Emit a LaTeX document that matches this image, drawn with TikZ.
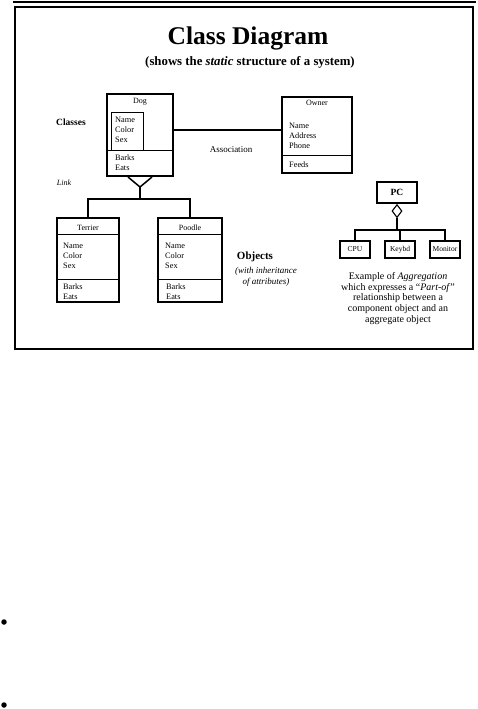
\documentclass[tikz,border=0pt]{standalone}
\usepackage{fontspec}
\setmainfont{Liberation Serif}
\usetikzlibrary{positioning,calc,shapes.geometric}
\tikzset{cls/.style={draw,line width=2pt,inner sep=0pt},
  part/.style={draw,line width=1.3pt,inner sep=0pt,minimum width=30pt,minimum height=17pt,font=\fontsize{7.5}{8}\selectfont},
  attr/.style={anchor=north west,align=left,inner sep=0pt,font=\fontsize{8.3}{10}\selectfont},
  ttl/.style={inner sep=0pt,font=\fontsize{8}{9}\selectfont},
  note/.style={inner sep=0pt,align=center,font=\itshape\fontsize{9}{11}\selectfont},
  wire/.style={line width=1.5pt},sep/.style={line width=0.8pt},
  dot/.style={circle,fill,inner sep=0pt,minimum size=5.5pt}}

\begin{document}
\begin{tikzpicture}[x=1pt,y=-1pt]
\useasboundingbox (0,0) rectangle (478,709);
\draw[line width=1.5pt] (13,2) -- (476,2);
\draw[line width=1.4pt] (15,7) rectangle (473,349);
\node[font=\bfseries\fontsize{25.5}{30}\selectfont] (title) at (248,38) {Class Diagram};
\node[font=\bfseries\fontsize{12.8}{15}\selectfont] (sub) at (250,62) {(shows the \textit{static} structure of a system)};
% classes
\node[cls,minimum width=66pt,minimum height=82pt] (dog) at (140,135) {};
\node[ttl] (dogt) at (140,102) {Dog};
\draw[sep] (111,150) rectangle (143,112);
\draw[sep] (dog.west |- 0,150) -- (dog.east |- 0,150);
\node[attr] (doga) at (115,117) {Name\\Color\\Sex};
\node[attr] (dogo) at (115,155) {Barks\\Eats};
\node[cls,minimum width=70pt,minimum height=76pt] (owner) at (317,135) {};
\node[ttl] (ownert) at (317,103) {Owner};
\draw[sep] (owner.west |- 0,155) -- (owner.east |- 0,155);
\node[attr] (ownera) at (289,123) {Name\\Address\\Phone};
\node[attr] (ownero) at (289,162) {Feeds};
\draw[wire] (dog.east |- 0,130) -- (owner.west |- 0,130);
\node[font=\fontsize{9}{10}\selectfont] (assoc) at (231,150) {Association};
\node[font=\bfseries\fontsize{9.5}{11}\selectfont] (classes) at (71,122) {Classes};
\node[font=\itshape\fontsize{8}{9}\selectfont] (link) at (64,183) {Link};
% objects
\node[cls,minimum width=62pt,minimum height=84pt] (terrier) at (88,260) {};
\node[ttl] (terriert) at (88,228) {Terrier};
\draw[sep] (terrier.west |- 0,234) -- (terrier.east |- 0,234);
\draw[sep] (terrier.west |- 0,279) -- (terrier.east |- 0,279);
\node[attr] (terriera) at (63,243) {Name\\Color\\Sex};
\node[attr] (terriero) at (63,284) {Barks\\Eats};
\node[cls,minimum width=64pt,minimum height=84pt] (poodle) at (190,260) {};
\node[ttl] (poodlet) at (190,228) {Poodle};
\draw[sep] (poodle.west |- 0,234) -- (poodle.east |- 0,234);
\draw[sep] (poodle.west |- 0,279) -- (poodle.east |- 0,279);
\node[attr] (poodlea) at (165,243) {Name\\Color\\Sex};
\node[attr] (poodleo) at (166,284) {Barks\\Eats};
\coordinate (apex) at (140,187);
\coordinate (join) at (140,199);
\draw[wire] ([xshift=-12pt]dog.south) -- (apex) -- ([xshift=12pt]dog.south);
\draw[wire] (apex) -- (join);
\draw[wire] (terrier.north) -- (terrier.north |- join) -- (poodle.north |- join) -- (poodle.north);
\node[font=\bfseries\fontsize{11}{13}\selectfont] (objects) at (255,257) {Objects};
\node[note] (objn) at (266,277) {(with inheritance\\of attributes)};
% aggregation
\node[cls,minimum width=40pt,minimum height=21pt,font=\bfseries\fontsize{9.5}{10}\selectfont] (pc) at (397,192.5) {PC};
\node[diamond,draw,line width=1.1pt,fill=white,minimum width=10pt,minimum height=13pt,inner sep=0pt,anchor=north] (agg) at (pc.south) {};
\coordinate (pcj) at (400,230);
\node[part] (cpu) at (355,249.5) {CPU};
\node[part] (keybd) at (400,249.5) {Keybd};
\node[part] (mon) at (445,249.5) {Monitor};
\draw[wire] (agg.south) -- (agg.south |- pcj);
\draw[wire] (cpu.north) -- (cpu.north |- pcj) -- (mon.north |- pcj) -- (mon.north);
\draw[wire] (keybd.north) -- (keybd.north |- pcj);
\node[note,font=\fontsize{10}{10.8}\selectfont] (aggn) at (398,298.5) {Example of \textit{Aggregation}\\which expresses a ``\textit{Part-of}''\\relationship between a\\component object and an\\aggregate object};
% bullets
\node[dot] (b1) at (4,622) {};
\node[dot] (b2) at (4,705) {};
\end{tikzpicture}
\end{document}
